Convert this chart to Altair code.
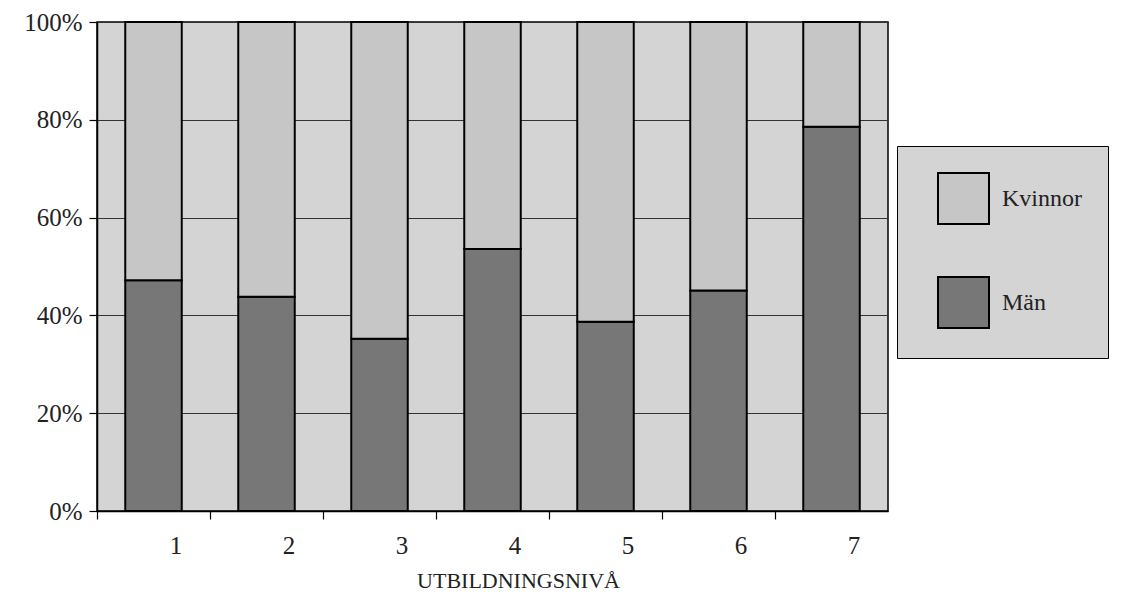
import altair as alt
import pandas as pd

# --- data ---
levels = ["1", "2", "3", "4", "5", "6", "7"]
man = [47.2, 43.8, 35.2, 53.6, 38.7, 45.1, 78.6]          # Män, percent
kvinnor = [52.8, 56.2, 64.8, 46.4, 61.3, 54.9, 21.4]      # Kvinnor, percent
series = ["Kvinnor", "Män"]
series_colors = ["#c6c6c6", "#777777"]
y_ticks = [0, 0.2, 0.4, 0.6, 0.8, 1.0]
x_title = "UTBILDNINGSNIVÅ"

rows = []
for i, lv in enumerate(levels):
    rows.append({"niva": lv, "kon": "Män", "andel": man[i], "ordning": 0})
    rows.append({"niva": lv, "kon": "Kvinnor", "andel": kvinnor[i], "ordning": 1})
df = pd.DataFrame(rows)

FONT = "Liberation Serif"
W, H = 791, 489
step = W / 7.0

chart = alt.Chart(df).mark_bar(stroke="black", strokeWidth=2).encode(
    x=alt.X(
        "niva:N",
        sort=levels,
        scale=alt.Scale(paddingInner=0.5, paddingOuter=0.25),
        axis=alt.Axis(
            title=x_title,
            labelAngle=0,
            tickOffset=-step / 2,
            labelOffset=step / 2 + 22,
            tickSize=8,
            tickColor="black",
            tickWidth=1.2,
            domainColor="black",
            domainWidth=1.5,
            labelFont=FONT,
            labelFontSize=25,
            labelColor="#222",
            labelPadding=14,
            titleFont=FONT,
            titleFontSize=22,
            titleFontWeight="normal",
            titleColor="#222",
            titleX=421,
            titleY=76,
            titleBaseline="alphabetic",
            titleAnchor="middle",
            grid=False,
        ),
    ),
    y=alt.Y(
        "andel:Q",
        stack="normalize",
        scale=alt.Scale(domain=[0, 1], nice=False),
        axis=alt.Axis(
            values=y_ticks,
            format=".0%",
            title=None,
            tickSize=8,
            tickColor="black",
            tickWidth=1.2,
            domainColor="black",
            domainWidth=1.5,
            labelFont=FONT,
            labelFontSize=25,
            labelColor="#222",
            labelPadding=7,
            grid=True,
            gridColor="#333",
            gridWidth=1.2,
        ),
    ),
    color=alt.Color(
        "kon:N",
        scale=alt.Scale(domain=series, range=series_colors),
        legend=alt.Legend(
            title=None,
            orient="none",
            legendX=800,
            legendY=124,
            fillColor="#d4d4d4",
            strokeColor="black",
            padding=26,
            symbolOffset=14,
            symbolType="square",
            symbolSize=2600,
            symbolStrokeColor="black",
            symbolStrokeWidth=2,
            symbolOpacity=1,
            labelFont=FONT,
            labelFontSize=24,
            labelColor="#222",
            labelOffset=12,
            rowPadding=45,
        ),
    ),
    order=alt.Order("ordning:Q", sort="ascending"),
).properties(
    width=W,
    height=H,
    autosize=alt.AutoSizeParams(type="none"),
    padding={"left": 89, "top": 14, "right": 230, "bottom": 86},
    background="white",
).configure_view(
    stroke="black",
    strokeWidth=1.5,
    fill="#d4d4d4",
)

chart.save("out.html", embed_options={"renderer": "svg", "actions": False})
